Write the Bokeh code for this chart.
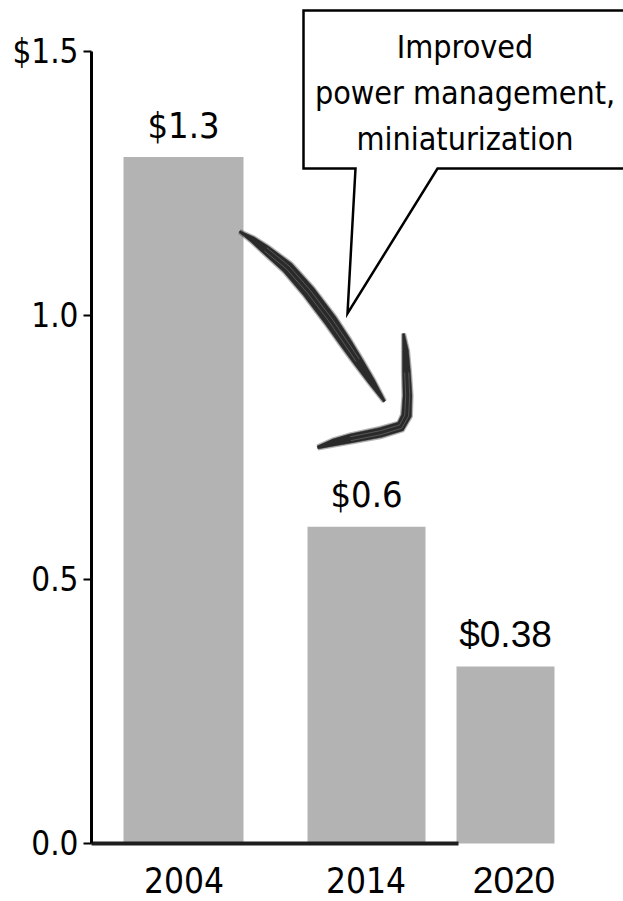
import math
from bokeh.plotting import figure
from bokeh.models import Range1d, FixedTicker, ColumnDataSource
from bokeh.core.properties import value
from bokeh.embed import file_html
from bokeh.resources import INLINE

# ---------------- data ----------------
years = ["2004", "2014", "2020"]
costs = [1.3, 0.6, 0.335]
cost_labels = ["$1.3", "$0.6", "$0.38"]
y_ticks = [0.0, 0.5, 1.0, 1.5]
y_tick_labels = ["0.0", "0.5", "1.0", "$1.5"]
callout_lines = ["Improved", "power management,", "miniaturization"]

# ---------------- layout / style ----------------
bar_x = [183, 366, 505]
bar_w = [120, 118, 98]
year_x = [183.5, 365.5, 513.5]
VERD = "DejaVu Sans Condensed"
ARIAL = "Liberation Sans"
label_fonts = [VERD, VERD, ARIAL]
label_sizes = ["36px", "36px", "37px"]
year_fonts = [VERD, VERD, ARIAL]
year_sizes = ["35px", "35px", "37px"]
BASE_SHIFT = 13  # svg baseline compensation (px)

Y0_PX = 843.0
PX_PER_UNIT = 528.0
W, H = 623, 901
FRAME_LEFT = 91


def vy(py):
    return (Y0_PX - py) / PX_PER_UNIT


p = figure(width=W, height=H, output_backend="svg", toolbar_location=None,
           x_range=Range1d(FRAME_LEFT, W), y_range=Range1d(vy(H), vy(0)),
           x_axis_location=None, min_border_left=FRAME_LEFT, min_border_right=0,
           min_border_top=0, min_border_bottom=0)
p.outline_line_color = None
p.xgrid.visible = False
p.ygrid.visible = False
p.background_fill_color = "white"

ax = p.yaxis[0]
ax.ticker = FixedTicker(ticks=y_ticks)
ax.major_label_overrides = {t: l for t, l in zip(y_ticks, y_tick_labels)}
ax.bounds = (0, 1.5)
ax.axis_line_width = 3
ax.axis_line_color = "black"
ax.major_tick_out = 8
ax.major_tick_in = 0
ax.major_tick_line_width = 2
ax.major_tick_line_color = "black"
ax.minor_tick_line_color = None
ax.major_label_text_font = VERD
ax.major_label_text_font_size = "33px"
ax.major_label_text_color = "black"
ax.major_label_standoff = 5

src = ColumnDataSource(dict(x=bar_x, w=bar_w, top=costs, lab=cost_labels,
                            font=label_fonts, size=label_sizes))
p.vbar(x="x", width="w", top="top", bottom=0, source=src,
       fill_color="#b3b3b3", line_color=None)

# x axis base line
p.segment(x0=[75], y0=[0], x1=[458], y1=[0], line_color="#1e1e1e", line_width=4)

# value labels
p.text(x="x", y="top", text="lab", source=src, text_font="font",
       text_font_size="size", text_align="center", text_baseline="alphabetic",
       y_offset=-19 - BASE_SHIFT, text_color="black")

# year labels
ysrc = ColumnDataSource(dict(x=year_x, y=[vy(892 - BASE_SHIFT)] * 3, t=years,
                             font=year_fonts, size=year_sizes))
p.text(x="x", y="y", text="t", source=ysrc, text_font="font",
       text_font_size="size", text_align="center", text_baseline="alphabetic",
       text_color="black")


# brush-stroke arrow (tapered polygons)
def stroke_outline(pts, hws):
    left, right = [], []
    n = len(pts)
    for i, (x, y) in enumerate(pts):
        ax_, ay_ = pts[max(i - 1, 0)]
        bx_, by_ = pts[min(i + 1, n - 1)]
        dx, dy = bx_ - ax_, by_ - ay_
        L = math.hypot(dx, dy) or 1.0
        nx, ny = -dy / L, dx / L
        left.append((x + nx * hws[i], y + ny * hws[i]))
        right.append((x - nx * hws[i], y - ny * hws[i]))
    poly = left + right[::-1]
    return [a for a, b in poly], [vy(b) for a, b in poly]


def offset_line(pts, off):
    out = []
    n = len(pts)
    for i, (x, y) in enumerate(pts):
        ax_, ay_ = pts[max(i - 1, 0)]
        bx_, by_ = pts[min(i + 1, n - 1)]
        dx, dy = bx_ - ax_, by_ - ay_
        L = math.hypot(dx, dy) or 1.0
        out.append((x - dy / L * off, y + dx / L * off))
    return [a for a, b in out], [vy(b) for a, b in out]


main_px = [(239, 231), (252, 239), (265, 249), (287, 267), (308, 291), (330, 320),
           (345, 342), (357, 360), (371, 381), (384, 401)]
main_hw = [1.0, 3.0, 4.5, 6.0, 6.5, 6.5, 6.0, 5.0, 3.5, 1.2]
chev_px = [(403, 333), (405, 350), (406, 372), (407, 395), (406, 415), (400, 426),
           (380, 432), (350, 438), (333, 442), (317, 447)]
chev_hw = [1.0, 3.0, 4.0, 4.5, 5.0, 5.0, 5.0, 4.5, 3.5, 1.5]

for pts, hws in ((main_px, main_hw), (chev_px, chev_hw)):
    xs, ys = stroke_outline(pts, [h + 1.6 for h in hws])
    p.patch(xs, ys, fill_color="#2a2a2a", fill_alpha=0.35, line_color=None)
    xs, ys = stroke_outline(pts, hws)
    p.patch(xs, ys, fill_color="#2a2a2a", line_color="#2a2a2a", line_width=0.5)
    inner = pts[2:-2]
    for off in (-2.2, 1.8):
        lx, ly = offset_line(inner, off)
        p.line(lx, ly, line_color="#7a7a7a", line_width=0.8, line_alpha=0.7)

# speech bubble
bub = [(303, 10), (640, 10), (640, 168), (437, 168), (347, 313), (355, 168), (303, 168)]
p.patch([a for a, b in bub], [vy(b) for a, b in bub], fill_color="white",
        line_color="black", line_width=2.5, line_join="miter")

p.text(x=[464.5] * 3, y=[vy(58 - 12), vy(104 - 12), vy(150 - 12)], text=callout_lines,
       text_font=value(VERD), text_font_size="32px", text_align="center",
       text_baseline="alphabetic", text_color="black")

open("out.html", "w").write(file_html(p, INLINE))
